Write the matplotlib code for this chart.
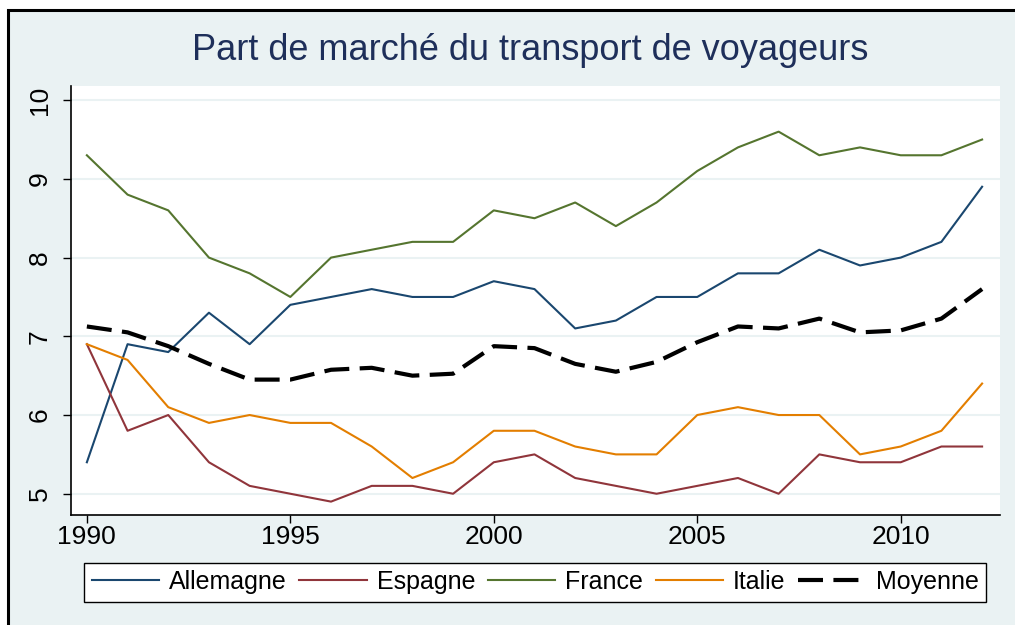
import matplotlib
matplotlib.use("Agg")
import matplotlib.pyplot as plt
from matplotlib.patches import Rectangle

plt.rcParams['font.family'] = ['Liberation Sans', 'DejaVu Sans']

years = list(range(1990, 2013))
allemagne = [5.4, 6.9, 6.8, 7.3, 6.9, 7.4, 7.5, 7.6, 7.5, 7.5, 7.7, 7.6,
             7.1, 7.2, 7.5, 7.5, 7.8, 7.8, 8.1, 7.9, 8.0, 8.2, 8.9]
espagne = [6.9, 5.8, 6.0, 5.4, 5.1, 5.0, 4.9, 5.1, 5.1, 5.0, 5.4, 5.5,
           5.2, 5.1, 5.0, 5.1, 5.2, 5.0, 5.5, 5.4, 5.4, 5.6, 5.6]
france = [9.3, 8.8, 8.6, 8.0, 7.8, 7.5, 8.0, 8.1, 8.2, 8.2, 8.6, 8.5,
          8.7, 8.4, 8.7, 9.1, 9.4, 9.6, 9.3, 9.4, 9.3, 9.3, 9.5]
italie = [6.9, 6.7, 6.1, 5.9, 6.0, 5.9, 5.9, 5.6, 5.2, 5.4, 5.8, 5.8,
          5.6, 5.5, 5.5, 6.0, 6.1, 6.0, 6.0, 5.5, 5.6, 5.8, 6.4]
moyenne = [7.125, 7.05, 6.875, 6.65, 6.45, 6.45, 6.575, 6.6, 6.5, 6.525, 6.875, 6.85,
           6.65, 6.55, 6.675, 6.925, 7.125, 7.1, 7.225, 7.05, 7.075, 7.225, 7.6]

xticks = [1990, 1995, 2000, 2005, 2010]
yticks = [5, 6, 7, 8, 9, 10]

W, H = 1015, 625
bg = '#eaf2f3'

fig = plt.figure(figsize=(W / 100, H / 100), dpi=100)
fig.patch.set_facecolor('white')
# light background with black border (cropped on right and bottom)
fig.patches.append(Rectangle((8 / W, -0.1), 1.2, 1.1 - 10 / H, transform=fig.transFigure,
                             facecolor=bg, edgecolor='black', linewidth=2.2, zorder=-5))

ax = fig.add_axes([71 / W, 1 - 515 / H, (1000 - 71) / W, (515 - 86) / H])
ax.set_zorder(2)
ax.set_facecolor('white')

ax.plot(years, allemagne, color='#1a476f', lw=1.5, label='Allemagne')
ax.plot(years, espagne, color='#90353b', lw=1.5, label='Espagne')
ax.plot(years, france, color='#55752f', lw=1.5, label='France')
ax.plot(years, italie, color='#e37e00', lw=1.5, label='Italie')
ax.plot(years, moyenne, color='black', lw=3, dashes=(6, 2.5), label='Moyenne')

ax.set_xlim(1989.61, 2012.44)
ax.set_ylim(4.73, 10.18)
ax.set_xticks(xticks)
ax.set_yticks(yticks)
ax.grid(axis='y', color=bg, lw=1.5)
ax.set_axisbelow(True)

for s in ['top', 'right']:
    ax.spines[s].set_visible(False)
for s in ['left', 'bottom']:
    ax.spines[s].set_color('black')
    ax.spines[s].set_linewidth(1.2)

ax.tick_params(axis='both', direction='out', length=6, width=1, labelsize=19)
ax.tick_params(axis='x', pad=1)
ax.tick_params(axis='y', pad=8)
for lab in ax.get_yticklabels():
    lab.set_rotation(90)
    lab.set_va('center')
    lab.set_ha('right')

fig.text(530 / W, 1 - 50 / H, 'Part de marché du transport de voyageurs',
         ha='center', va='center', fontsize=26, color='#1e2f5a')

leg = fig.legend(loc='center', bbox_to_anchor=(535 / W, 1 - 582 / H), ncol=5,
                 fontsize=18, frameon=True, fancybox=False, handlelength=2.7,
                 handletextpad=0.4, columnspacing=0.5, borderpad=0.3,
                 borderaxespad=0)
leg.get_frame().set_edgecolor('black')
leg.get_frame().set_linewidth(1)
leg.get_frame().set_facecolor('white')
leg.get_frame().set_alpha(1)

fig.savefig('out.png', dpi=100, facecolor=fig.get_facecolor())
